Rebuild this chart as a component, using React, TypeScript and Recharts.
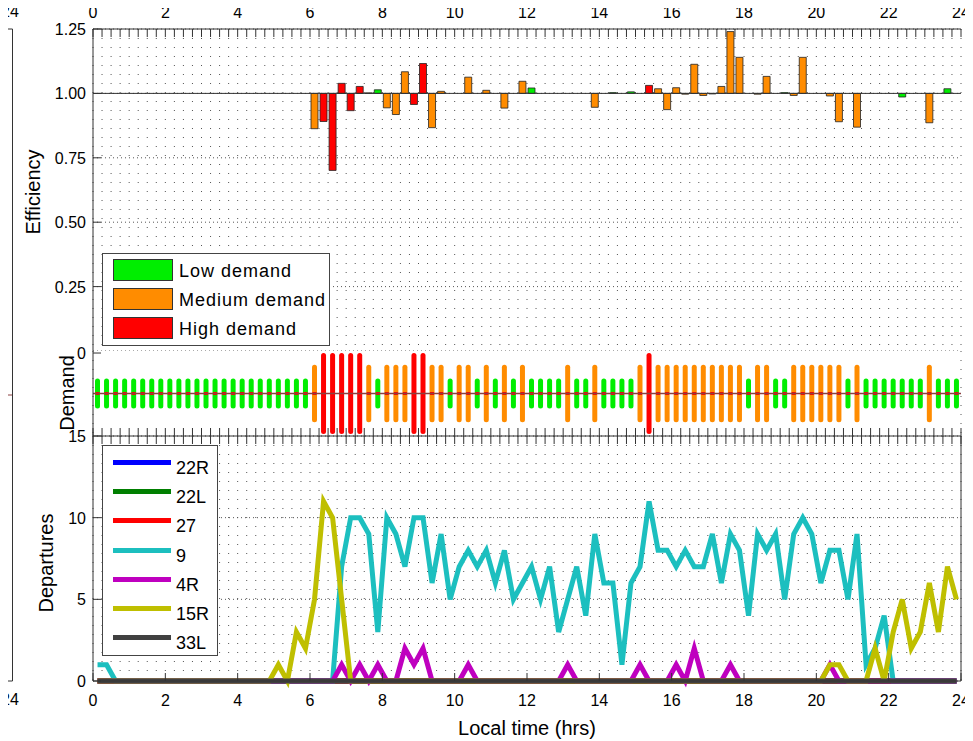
import React from "react";
import {
  ComposedChart,
  Bar,
  Line,
  XAxis,
  YAxis,
  CartesianGrid,
  ReferenceLine,
  Cell,
} from "recharts";

const FONT = "'Liberation Sans', Arial, Helvetica, sans-serif";
const AXIS = "#333";
const DOT = "#555";

// time axis: 15 minute bins over the day, values sit at the bin centres
const binCenters: number[] = Array.from({ length: 96 }, (_, i) => 0.125 + i * 0.25);
const quarterTicks: number[] = Array.from({ length: 97 }, (_, i) => i * 0.25);
const hourLabels = [0, 2, 4, 6, 8, 10, 12, 14, 16, 18, 20, 22, 24];
const effTicks = [0.25, 0.5, 0.75, 1, 1.25];
const depTicks = [0, 5, 10, 15];

const demandNames = ["Low demand", "Medium demand", "High demand"];
const demandColors = ["#00ee00", "#ff8c00", "#ff0000"];
// relative half-length of the demand marks per level
const demandSpan = [0.37, 0.71, 1.0];

// 1 = low, 2 = medium, 3 = high
const demandLevel = [
  1, 1, 1, 1, 1, 1, 1, 1, 1, 1, 1, 1, 1, 1, 1, 1, 1, 1, 1, 1, 1, 1, 1, 1,
  2, 3, 3, 3, 3, 3, 2, 1, 2, 2, 2, 3, 3, 2, 2, 1, 2, 2, 1, 2, 1, 2, 1, 2,
  1, 1, 1, 1, 2, 1, 1, 2, 1, 1, 1, 1, 2, 3, 2, 2, 2, 2, 2, 2, 2, 2, 2, 2,
  1, 2, 2, 1, 1, 2, 2, 2, 2, 2, 2, 1, 2, 1, 1, 1, 1, 1, 1, 1, 2, 1, 1, 1,
];

// null = no bar in that bin
const efficiency: (number | null)[] = [
  null, null, null, null, null, null, null, null, null, null, null, null,
  null, null, null, null, null, null, null, null, null, null, null, null,
  0.863, 0.891, 0.701, 1.039, 0.933, 1.027, 1.002, 1.014,
  0.944, 0.918, 1.084, 0.957, 1.116, 0.867, 1.008, null,
  null, 1.063, null, 1.012, null, 0.943, null, 1.047,
  1.021, null, null, null, null, null, null, 0.946,
  null, 1.003, null, 1.006, null, 1.031, 1.018, 0.937,
  1.022, 0.997, 1.113, 0.992, 0.998, 1.027, 1.24, 1.14,
  null, 0.997, 1.066, null, 1.003, 0.992, 1.14, null,
  null, 0.99, 0.89, null, 0.869, null, null, null,
  null, 0.986, null, null, 0.886, null, 1.018, null,
];

const runways = ["22R", "22L", "27", "9", "4R", "15R", "33L"];
const runwayColors = ["#0000ff", "#007f00", "#ff0000", "#1cbfbf", "#bf00bf", "#bfbf00", "#404040"];

const dep22R = [
  0, 0, 0, 0, 0, 0, 0, 0, 0, 0, 0, 0, 0, 0, 0, 0, 0, 0, 0, 0, 0, 0, 0, 0,
  0, 0, 0, 0, 0, 0, 0, 0, 0, 0, 0, 0, 0, 0, 0, 0, 0, 0, 0, 0, 0, 0, 0, 0,
  0, 0, 0, 0, 0, 0, 0, 0, 0, 0, 0, 0, 0, 0, 0, 0, 0, 0, 0, 0, 0, 0, 0, 0,
  0, 0, 0, 0, 0, 0, 0, 0, 0, 0, 0, 0, 0, 0, 0, 0, 0, 0, 0, 0, 0, 0, 0, 0,
];
const dep22L = [
  0, 0, 0, 0, 0, 0, 0, 0, 0, 0, 0, 0, 0, 0, 0, 0, 0, 0, 0, 0, 0, 0, 0, 0,
  0, 0, 0, 0, 0, 0, 0, 0, 0, 0, 0, 0, 0, 0, 0, 0, 0, 0, 0, 0, 0, 0, 0, 0,
  0, 0, 0, 0, 0, 0, 0, 0, 0, 0, 0, 0, 0, 0, 0, 0, 0, 0, 0, 0, 0, 0, 0, 0,
  0, 0, 0, 0, 0, 0, 0, 0, 0, 0, 0, 0, 0, 0, 0, 0, 0, 0, 0, 0, 0, 0, 0, 0,
];
const dep27 = [
  0, 0, 0, 0, 0, 0, 0, 0, 0, 0, 0, 0, 0, 0, 0, 0, 0, 0, 0, 0, 0, 0, 0, 0,
  0, 0, 0, 0, 0, 0, 0, 0, 0, 0, 0, 0, 0, 0, 0, 0, 0, 0, 0, 0, 0, 0, 0, 0,
  0, 0, 0, 0, 0, 0, 0, 0, 0, 0, 0, 0, 0, 0, 0, 0, 0, 0, 0, 0, 0, 0, 0, 0,
  0, 0, 0, 0, 0, 0, 0, 0, 0, 0, 0, 0, 0, 0, 0, 0, 0, 0, 0, 0, 0, 0, 0, 0,
];
const dep9 = [
  1, 1, 0, 0, 0, 0, 0, 0, 0, 0, 0, 0, 0, 0, 0, 0, 0, 0, 0, 0, 0, 0, 0, 0,
  0, 0, 0, 7, 10, 10, 9, 3, 10, 9, 7, 10, 10, 6, 9, 5, 7, 8, 7, 8, 6, 8, 5, 6,
  7, 5, 7, 3, 5, 7, 4, 9, 6, 6, 1, 6, 7, 11, 8, 8, 7, 8, 7, 7, 9, 6, 9, 8,
  4, 9, 8, 9, 5, 9, 10, 9, 6, 8, 8, 5, 9, 1, 2, 4, 0, 0, 0, 0, 0, 0, 0, 0,
];
const dep4R = [
  0, 0, 0, 0, 0, 0, 0, 0, 0, 0, 0, 0, 0, 0, 0, 0, 0, 0, 0, 0, 0, 0, 0, 0,
  0, 0, 0, 1, 0, 1, 0, 1, 0, 0, 2, 1, 2, 0, 0, 0, 0, 1, 0, 0, 0, 0, 0, 0,
  0, 0, 0, 0, 1, 0, 0, 0, 0, 0, 0, 0, 1, 0, 0, 0, 1, 0, 2, 0, 0, 0, 1, 0,
  0, 0, 0, 0, 0, 0, 0, 0, 0, 1, 0, 0, 0, 0, 0, 0, 0, 0, 0, 0, 0, 0, 0, 0,
];
const dep15R = [
  0, 0, 0, 0, 0, 0, 0, 0, 0, 0, 0, 0, 0, 0, 0, 0, 0, 0, 0, 0, 1, 0, 3, 2,
  5, 11, 10, 5, 0, 0, 0, 0, 0, 0, 0, 0, 0, 0, 0, 0, 0, 0, 0, 0, 0, 0, 0, 0,
  0, 0, 0, 0, 0, 0, 0, 0, 0, 0, 0, 0, 0, 0, 0, 0, 0, 0, 0, 0, 0, 0, 0, 0,
  0, 0, 0, 0, 0, 0, 0, 0, 0, 1, 1, 0, 0, 0, 2, 0, 3, 5, 2, 3, 6, 3, 7, 5,
];
const dep33L = [
  0, 0, 0, 0, 0, 0, 0, 0, 0, 0, 0, 0, 0, 0, 0, 0, 0, 0, 0, 0, 0, 0, 0, 0,
  0, 0, 0, 0, 0, 0, 0, 0, 0, 0, 0, 0, 0, 0, 0, 0, 0, 0, 0, 0, 0, 0, 0, 0,
  0, 0, 0, 0, 0, 0, 0, 0, 0, 0, 0, 0, 0, 0, 0, 0, 0, 0, 0, 0, 0, 0, 0, 0,
  0, 0, 0, 0, 0, 0, 0, 0, 0, 0, 0, 0, 0, 0, 0, 0, 0, 0, 0, 0, 0, 0, 0, 0,
];
const departures = [dep22R, dep22L, dep27, dep9, dep4R, dep15R, dep33L];

const effData = binCenters
  .map((t, i) => ({ t, eff: efficiency[i], level: demandLevel[i] }))
  .filter((d) => d.eff !== null);

const demandData = binCenters.map((t, i) => ({ t, level: demandLevel[i] }));

const depData = binCenters.map((t, i) => {
  const row: Record<string, number> = { t };
  runways.forEach((r, k) => (row[r] = departures[k][i]));
  return row;
});

const effRange = (d: any) => (d.eff >= 1 ? [1, d.eff] : [d.eff, 1]);
const demandRange = (d: any) => {
  const s = demandSpan[d.level - 1];
  return [-s, s];
};

const label = (x: number, y: number, text: string | number, anchor: string) => (
  <text x={x} y={y} textAnchor={anchor} fontSize={16} fontFamily={FONT} fill="#000">
    {text}
  </text>
);

// tick renderers (tickSize/tickMargin are 0 so x/y is the axis line)
const topTick = (withLabels: boolean, both: boolean) => (p: any) => {
  const v = p.payload.value;
  return (
    <g>
      <line x1={p.x} y1={both ? p.y - 8 : p.y} x2={p.x} y2={p.y + 8} stroke={AXIS} />
      {withLabels && v % 2 === 0 ? label(p.x, p.y - 11, v, "middle") : null}
    </g>
  );
};

const bottomTick = (p: any) => (
  <g>
    <line x1={p.x} y1={p.y} x2={p.x} y2={p.y - 8} stroke={AXIS} />
    {label(p.x, p.y + 25, p.payload.value, "middle")}
  </g>
);

const leftTick = (fmt: (v: number) => string) => (p: any) => (
  <g>
    <line x1={p.x} y1={p.y} x2={p.x + 8} y2={p.y} stroke={AXIS} />
    {label(p.x - 7, p.y + 6, fmt(p.payload.value), "end")}
  </g>
);

const rightTick = (p: any) => (
  <line x1={p.x} y1={p.y} x2={p.x - 8} y2={p.y} stroke={AXIS} />
);

const DemandShape = (p: any) => {
  const { x, y, width, height, fill } = p;
  if (height == null || isNaN(height)) return null;
  const cy = y + height / 2;
  return (
    <g>
      <rect x={x} y={y} width={width} height={height} rx={width / 2} fill={fill} />
      <rect x={x + 0.5} y={cy - 1.5} width={width - 1} height={3} fill="#ff0000" />
    </g>
  );
};

const title = (text: string, cx: number, cy: number, rotate: boolean) => (
  <div
    style={{
      position: "absolute",
      left: cx,
      top: cy,
      transform: `translate(-50%, -50%)${rotate ? " rotate(-90deg)" : ""}`,
      whiteSpace: "nowrap",
      fontFamily: FONT,
      fontSize: 20,
      lineHeight: "22px",
      color: "#000",
    }}
  >
    {text}
  </div>
);

const edgeLabel = (text: string, top: number) => (
  <div style={{ position: "absolute", left: 1, top, zIndex: 5, fontFamily: FONT, fontSize: 16, lineHeight: "18px", color: "#000", whiteSpace: "nowrap" }}>
    {text}
  </div>
);

const App: React.FC = () => {
  return (
    <div style={{ position: "relative", width: 973, height: 741, margin: "-8px 0 0 -8px", background: "#fff", overflow: "hidden" }}>
      {/* cut-off neighbour panel at the left edge */}
      <svg style={{ position: "absolute", left: 0, top: 0 }} width={16} height={741}>
        <line x1={4} y1={29} x2={4} y2={681} stroke={DOT} strokeDasharray="1 8" />
        <line x1={0} y1={29} x2={12.5} y2={29} stroke={AXIS} />
        <line x1={12.5} y1={29} x2={12.5} y2={681} stroke={AXIS} />
        <line x1={0} y1={681} x2={12.5} y2={681} stroke={AXIS} />
        <line x1={0} y1={395} x2={12} y2={395} stroke="#8b4040" />
        <rect x={1} y={380} width={5} height={30} rx={2.5} fill="#00ee00" />
        <line x1={0} y1={612} x2={4} y2={630} stroke="#ff0000" strokeWidth={3} />
      </svg>

      {/* efficiency panel */}
      <div style={{ position: "absolute", left: 0, top: 0 }}>
        <ComposedChart width={973} height={351} data={effData} margin={{ top: 0, right: 12, bottom: 0, left: 0 }}>
          <CartesianGrid horizontal={false} stroke={DOT} strokeDasharray="1 8" />
          <CartesianGrid vertical={false} stroke={DOT} strokeDasharray="1 3" />
          <XAxis
            orientation="top"
            type="number"
            dataKey="t"
            domain={[0, 24]}
            ticks={quarterTicks}
            interval={0}
            height={29}
            tickSize={0}
            tickMargin={0}
            tickLine={false}
            axisLine={{ stroke: AXIS }}
            tick={topTick(true, false)}
          />
          <YAxis
            type="number"
            domain={[0, 1.25]}
            ticks={effTicks}
            interval={0}
            width={93}
            tickSize={0}
            tickMargin={0}
            tickLine={false}
            axisLine={{ stroke: AXIS }}
            tick={leftTick((v) => v.toFixed(2))}
          />
          <ReferenceLine y={1} stroke={AXIS} />
          <Bar dataKey={effRange} barSize={7} stroke="#222" strokeWidth={0.8} isAnimationActive={false}>
            {effData.map((d, i) => (
              <Cell key={i} fill={demandColors[d.level - 1]} />
            ))}
          </Bar>
        </ComposedChart>
      </div>

      {/* demand strip (plot area 351..436, extra top margin keeps the "0" label unclipped) */}
      <div style={{ position: "absolute", left: 0, top: 339 }}>
        <ComposedChart width={973} height={97} data={demandData} margin={{ top: 12, right: 12, bottom: 0, left: 0 }}>
          <CartesianGrid horizontal={false} stroke={DOT} strokeDasharray="1 8" />
          <XAxis
            type="number"
            dataKey="t"
            domain={[0, 24]}
            ticks={quarterTicks}
            interval={0}
            height={0}
            tick={false}
            tickLine={false}
            axisLine={false}
          />
          <YAxis
            type="number"
            domain={[-1.05, 1.05]}
            ticks={[1]}
            interval={0}
            width={93}
            tickSize={0}
            tickMargin={0}
            tickLine={false}
            axisLine={{ stroke: AXIS }}
            tick={leftTick(() => "0")}
          />
          <Bar dataKey={demandRange} barSize={5} shape={<DemandShape />} isAnimationActive={false}>
            {demandData.map((d, i) => (
              <Cell key={i} fill={demandColors[d.level - 1]} />
            ))}
          </Bar>
          <ReferenceLine y={0} stroke="#8b4040" strokeWidth={1.5} />
        </ComposedChart>
      </div>

      {/* departures panel */}
      <div style={{ position: "absolute", left: 0, top: 406 }}>
        <ComposedChart width={973} height={335} data={depData} margin={{ top: 0, right: 0, bottom: 0, left: 0 }}>
          <CartesianGrid xAxisId="top" horizontal={false} stroke={DOT} strokeDasharray="1 8" />
          <CartesianGrid xAxisId="top" vertical={false} stroke={DOT} strokeDasharray="1 3" />
          <XAxis
            xAxisId="top"
            orientation="top"
            type="number"
            dataKey="t"
            domain={[0, 24]}
            ticks={quarterTicks}
            interval={0}
            height={30}
            tickSize={0}
            tickMargin={0}
            tickLine={false}
            axisLine={{ stroke: AXIS }}
            tick={topTick(false, true)}
          />
          <XAxis
            type="number"
            dataKey="t"
            domain={[0, 24]}
            ticks={hourLabels}
            interval={0}
            height={60}
            tickSize={0}
            tickMargin={0}
            tickLine={false}
            axisLine={{ stroke: AXIS }}
            tick={bottomTick}
          />
          <YAxis
            type="number"
            domain={[0, 15]}
            ticks={depTicks}
            interval={0}
            width={93}
            tickSize={0}
            tickMargin={0}
            tickLine={false}
            axisLine={{ stroke: AXIS }}
            tick={leftTick((v) => String(v))}
          />
          <YAxis
            yAxisId="r"
            orientation="right"
            type="number"
            domain={[0, 15]}
            ticks={[5, 10]}
            interval={0}
            width={12}
            tickSize={0}
            tickMargin={0}
            tickLine={false}
            axisLine={{ stroke: AXIS }}
            tick={rightTick}
          />
          {runways.map((r, k) => (
            <Line
              key={r}
              type="linear"
              dataKey={r}
              stroke={runwayColors[k]}
              strokeWidth={5}
              dot={false}
              activeDot={false}
              isAnimationActive={false}
            />
          ))}
        </ComposedChart>
      </div>

      {/* efficiency legend */}
      <div style={{ position: "absolute", left: 102, top: 253, width: 226, height: 91, border: "1px solid #444", background: "#fff" }}>
        {demandNames.map((n, i) => (
          <React.Fragment key={n}>
            <div style={{ position: "absolute", left: 10, top: 5 + i * 29, width: 58, height: 20, background: demandColors[i], border: "1px solid #333" }} />
            <div style={{ position: "absolute", left: 76, top: 8 + i * 29, fontFamily: FONT, fontSize: 18, lineHeight: "18px", letterSpacing: 1, whiteSpace: "nowrap" }}>
              {n}
            </div>
          </React.Fragment>
        ))}
      </div>

      {/* departures legend */}
      <div style={{ position: "absolute", left: 102, top: 445, width: 114, height: 209, border: "1px solid #444", background: "#fff" }}>
        {runways.map((r, i) => (
          <React.Fragment key={r}>
            <div style={{ position: "absolute", left: 10, top: 14 + i * 29.2, width: 58, height: 5, background: runwayColors[i] }} />
            <div style={{ position: "absolute", left: 73, top: 13 + i * 29.2, fontFamily: FONT, fontSize: 18, lineHeight: "18px", whiteSpace: "nowrap" }}>
              {r}
            </div>
          </React.Fragment>
        ))}
      </div>

      {title("Efficiency", 33, 192, true)}
      {title("Demand", 67, 393, true)}
      {title("Departures", 46, 563, true)}
      {title("Local time (hrs)", 527, 728, false)}
      {edgeLabel("24", 3)}
      {edgeLabel("24", 691)}
    </div>
  );
};

export default App;
